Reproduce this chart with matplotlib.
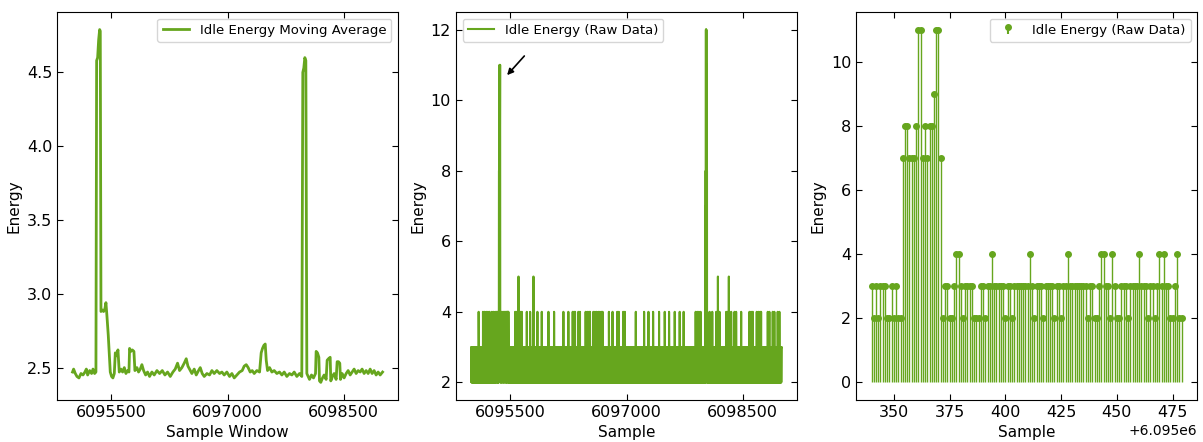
import numpy as np
import matplotlib
matplotlib.use("Agg")
import matplotlib.pyplot as plt

clrGreen = "#66a61e"
nStart = 6095000

# moving average (sample offset, energy)
listMaX = [0, 14, 36, 57, 83, 109, 135, 160, 178, 195, 221, 246, 264, 285, 302,
           311, 324, 337, 350, 358, 367, 384, 401, 418, 431, 444, 461, 474, 487,
           504, 521, 539, 552, 569, 586, 603, 625, 646, 668, 689, 711, 728, 736,
           754, 771, 792, 805, 831, 852, 874, 895, 917, 943, 968, 994, 1024, 1054,
           1089, 1123, 1158, 1192, 1226, 1261, 1295, 1325, 1355, 1381, 1411, 1441,
           1467, 1489, 1510, 1540, 1570, 1596, 1626, 1648, 1673, 1699, 1734, 1768,
           1798, 1828, 1862, 1897, 1927, 1957, 1991, 2026, 2056, 2086, 2120, 2155,
           2189, 2215, 2241, 2266, 2292, 2318, 2344, 2378, 2413, 2434, 2451, 2468,
           2486, 2499, 2516, 2542, 2572, 2602, 2636, 2670, 2701, 2731, 2765, 2799,
           2830, 2860, 2894, 2928, 2958, 2971, 2984, 2997, 3010, 3023, 3040, 3057,
           3083, 3109, 3135, 3143, 3160, 3178, 3186, 3203, 3225, 3246, 3272, 3285,
           3302, 3324, 3332, 3354, 3375, 3401, 3414, 3431, 3448, 3457, 3479, 3504,
           3530, 3556, 3582, 3608, 3633, 3659, 3685, 3711, 3736, 3762, 3788, 3814,
           3840, 3865, 3891, 3917, 3943, 3969, 4000]
listMaY = [2.47, 2.49, 2.46, 2.44, 2.43, 2.46, 2.45, 2.47, 2.49, 2.45, 2.48, 2.46,
           2.49, 2.46, 2.47, 4.58, 4.60, 4.72, 4.79, 4.78, 2.88, 2.89, 2.88, 2.90,
           2.94, 2.85, 2.72, 2.60, 2.47, 2.44, 2.43, 2.46, 2.60, 2.58, 2.62, 2.47,
           2.49, 2.47, 2.50, 2.46, 2.48, 2.47, 2.63, 2.61, 2.62, 2.61, 2.48, 2.50,
           2.47, 2.49, 2.52, 2.48, 2.45, 2.47, 2.44, 2.47, 2.45, 2.48, 2.46, 2.48,
           2.45, 2.47, 2.44, 2.47, 2.49, 2.53, 2.48, 2.50, 2.53, 2.56, 2.51, 2.49,
           2.46, 2.49, 2.45, 2.48, 2.50, 2.46, 2.44, 2.46, 2.45, 2.48, 2.46, 2.48,
           2.46, 2.47, 2.45, 2.47, 2.44, 2.46, 2.43, 2.45, 2.47, 2.48, 2.51, 2.52,
           2.50, 2.47, 2.48, 2.46, 2.48, 2.47, 2.60, 2.63, 2.65, 2.66, 2.55, 2.48,
           2.50, 2.47, 2.48, 2.46, 2.47, 2.45, 2.47, 2.44, 2.46, 2.45, 2.47, 2.44,
           2.46, 2.44, 4.50, 4.53, 4.60, 4.58, 2.46, 2.44, 2.42, 2.45, 2.43, 2.46,
           2.61, 2.60, 2.57, 2.41, 2.40, 2.43, 2.45, 2.42, 2.55, 2.56, 2.57, 2.41,
           2.44, 2.46, 2.42, 2.54, 2.54, 2.53, 2.42, 2.46, 2.43, 2.46, 2.48, 2.45,
           2.47, 2.49, 2.46, 2.48, 2.47, 2.49, 2.46, 2.48, 2.46, 2.49, 2.46, 2.48,
           2.45, 2.47, 2.45, 2.47]

# zoomed raw samples 6095340 .. 6095479 (right panel)
nZoomStart = 340
listZoom = [3, 2, 3, 2, 3, 3, 3, 2, 2, 3, 2, 3, 2, 2, 7, 8, 8, 7, 7, 7,
            8, 11, 11, 7, 8, 7, 8, 8, 9, 11, 11, 7, 2, 3, 3, 2, 2, 3, 4, 4,
            3, 2, 3, 3, 3, 3, 2, 2, 2, 3, 3, 2, 3, 3, 4, 3, 3, 3, 3, 3,
            2, 3, 3, 2, 3, 3, 3, 3, 3, 3, 3, 4, 3, 2, 3, 3, 3, 2, 3, 3,
            3, 3, 2, 3, 3, 2, 3, 3, 4, 3, 3, 3, 3, 3, 3, 3, 3, 2, 3, 3,
            2, 2, 3, 4, 4, 3, 3, 2, 4, 3, 2, 2, 3, 3, 3, 2, 3, 3, 3, 3,
            4, 3, 3, 3, 2, 3, 3, 2, 3, 4, 3, 4, 3, 3, 2, 2, 3, 4, 2, 2]

# idle band of the raw signal (2 / 3 flicker)
listBand = [3, 2, 3, 3, 2, 3, 3, 3, 2, 2, 3, 3, 2, 3, 3, 3, 3, 2, 3, 2,
            3, 3, 2, 3, 3, 3, 2, 3, 2, 2, 3, 3, 3, 2, 3, 3, 2, 3, 3, 3]

# spikes of the raw signal outside the zoomed window (offset -> energy)
listSpikeAt = [93, 149, 170, 191, 213, 234, 264, 286, 307, 324, 337, 564, 586,
               607, 629, 650, 714, 757, 800, 851, 907, 993, 1066, 1186, 1250,
               1306, 1323, 1336, 1379, 1400, 1473, 1494, 1516, 1529, 1572, 1593,
               1614, 1636, 1657, 1679, 1692, 1773, 1820, 1880, 1901, 1957, 1979,
               2120, 2227, 2283, 2343, 2420, 2493, 2549, 2622, 2686, 2737, 2892,
               2913, 2934, 2956, 3018, 3020, 3022, 3024, 3026, 3028, 3030, 3032,
               3034, 3036, 3038, 3040, 3072, 3106, 3157, 3179, 3200, 3286, 3307,
               3320, 3350, 3393, 3414, 3479, 3586, 3607, 3629, 3680, 3702, 3723,
               3736, 3822, 3843, 3886, 3907, 3950, 3972]
listSpikeVal = [4, 4, 4, 4, 4, 4, 4, 4, 4, 4, 4, 4, 4,
                5, 4, 4, 4, 4, 5, 4, 4, 4, 4, 4, 4,
                4, 4, 4, 4, 4, 4, 4, 4, 4, 4, 4,
                4, 4, 4, 4, 4, 4, 4, 4, 4, 4, 4,
                4, 4, 4, 4, 4, 4, 4, 4, 4, 4, 4,
                4, 4, 4, 5, 7, 8, 12, 12, 8, 12, 7,
                11, 11, 8, 4, 4, 4, 4, 5, 4, 4, 4,
                5, 4, 4, 4, 4, 4, 4, 4, 4, 4, 4,
                4, 4, 4, 4, 4, 4, 4]

nSamples = 4000
arrRaw = np.resize(np.array(listBand), nSamples)
arrRaw[nZoomStart:nZoomStart + len(listZoom)] = listZoom
arrRaw[listSpikeAt] = listSpikeVal
arrRawX = nStart + np.arange(nSamples)

plt.rcParams["font.family"] = "DejaVu Sans"

figMain = plt.figure(figsize=(12.03, 4.42), dpi=100)
fW = 0.2835
fB = 0.095
fH = 0.878
axMa = figMain.add_axes([0.0474, fB, fW, fH])
axRaw = figMain.add_axes([0.379, fB, fW, fH])
axZoom = figMain.add_axes([0.7116, fB, fW, fH])

axMa.plot(nStart + np.array(listMaX), listMaY, color=clrGreen, lw=2.0,
          label="Idle Energy Moving Average")
axMa.set_xlabel("Sample Window", fontsize=11)
axMa.legend(loc="upper right", fontsize=9.5)

axRaw.plot(arrRawX, arrRaw, color=clrGreen, lw=1.5, label="Idle Energy (Raw Data)")
axRaw.set_xlabel("Sample", fontsize=11)
axRaw.legend(loc="upper left", fontsize=9.5)
axRaw.annotate("", xy=(nStart + 436, 10.65), xytext=(nStart + 706, 11.31),
               arrowprops=dict(arrowstyle="-|>", color="black", lw=1.2,
                               mutation_scale=9))

arrZoomX = nStart + nZoomStart + np.arange(len(listZoom))
lineMark, lineStem, lineBase = axZoom.stem(arrZoomX, listZoom, basefmt=" ",
                                           label="Idle Energy (Raw Data)")
plt.setp(lineMark, color=clrGreen, markersize=4)
plt.setp(lineStem, color=clrGreen, linewidth=1.0)
axZoom.set_xlabel("Sample", fontsize=11)
axZoom.legend(loc="upper right", fontsize=9.5)

for ax in (axMa, axRaw):
    ax.set_xticks([6095500, 6097000, 6098500])
    ax.ticklabel_format(axis="x", useOffset=False, style="plain")

for ax in (axMa, axRaw, axZoom):
    ax.set_ylabel("Energy", fontsize=11)
    ax.tick_params(direction="in", top=True, right=True, labelsize=11.5, length=4)

figMain.savefig("out.png", dpi=100)
